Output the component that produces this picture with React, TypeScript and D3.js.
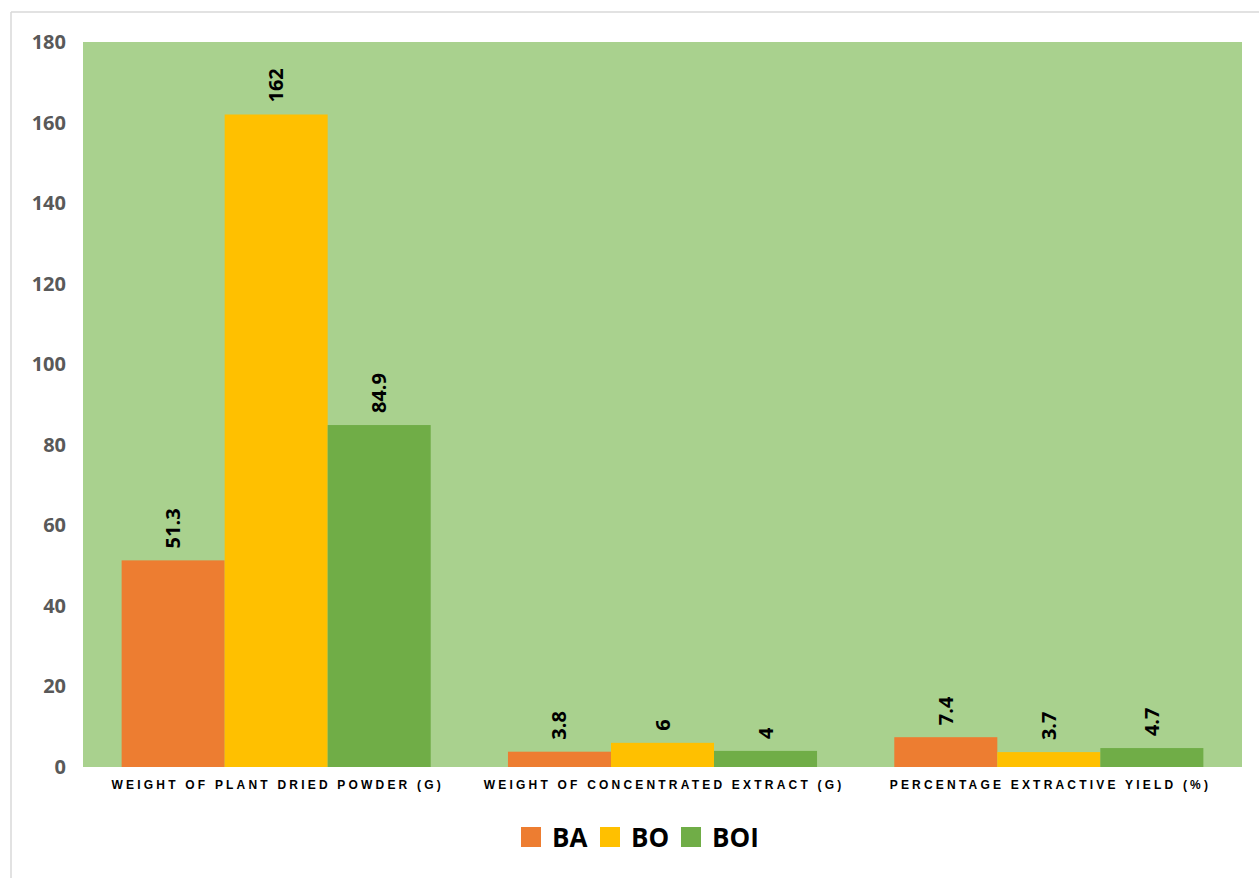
import React from "react";
import * as d3 from "d3";

const categories = [
  "WEIGHT OF PLANT DRIED POWDER (G)",
  "WEIGHT OF CONCENTRATED EXTRACT (G)",
  "PERCENTAGE EXTRACTIVE YIELD (%)",
];
const seriesNames = ["BA", "BO", "BOI"];
const baValues = [51.3, 3.8, 7.4];
const boValues = [162, 6, 3.7];
const boiValues = [84.9, 4, 4.7];
const yTicks = [0, 20, 40, 60, 80, 100, 120, 140, 160, 180];
const seriesColors = ["#ED7D31", "#FFC000", "#70AD47"];

const W = 1259;
const H = 878;
const plot = { left: 83, right: 1242, top: 42, bottom: 767 };

export default function App() {
  const series = [baValues, boValues, boiValues];
  const x0 = d3
    .scaleBand<string>()
    .domain(categories)
    .range([plot.left, plot.right])
    .paddingInner(0)
    .paddingOuter(0);
  // each group of bars fills the middle 80% of its category band
  const x1 = d3
    .scaleBand<string>()
    .domain(seriesNames)
    .range([x0.bandwidth() * 0.1, x0.bandwidth() * 0.9])
    .padding(0);
  const y = d3.scaleLinear().domain([0, 180]).range([plot.bottom, plot.top]);

  const legendItems = [
    { name: "BA", x: 521, textX: 552 },
    { name: "BO", x: 600, textX: 631 },
    { name: "BOI", x: 681, textX: 712 },
  ];

  return (
    <svg
      width={W}
      height={H}
      style={{ position: "absolute", left: 0, top: 0, background: "#fff" }}
    >
      {/* outer frame */}
      <line x1={11} x2={W} y1={12} y2={12} stroke="#D9D9D9" strokeWidth={1.5} />
      <line x1={11} x2={11} y1={12} y2={H} stroke="#D9D9D9" strokeWidth={1.5} />

      {/* plot area */}
      <rect
        x={plot.left}
        y={plot.top}
        width={plot.right - plot.left}
        height={plot.bottom - plot.top}
        fill="#A9D18E"
      />

      {/* y axis tick labels */}
      {yTicks.map((t) => (
        <text
          key={t}
          x={66}
          y={y(t)}
          dy="0.35em"
          textAnchor="end"
          fontFamily="'Open Sans', sans-serif"
          fontWeight={700}
          fontSize={20}
          fill="#595959"
        >
          {t}
        </text>
      ))}

      {/* bars and value labels */}
      {categories.map((c, ci) =>
        series.map((vals, si) => {
          const bx = (x0(c) as number) + (x1(seriesNames[si]) as number);
          const bw = x1.bandwidth();
          const v = vals[ci];
          const cx = bx + bw / 2;
          const ty = y(v) - 12;
          return (
            <g key={c + si}>
              <rect
                x={bx}
                y={y(v)}
                width={bw}
                height={plot.bottom - y(v)}
                fill={seriesColors[si]}
              />
              <text
                transform={`translate(${cx},${ty}) rotate(-90)`}
                dy="0.35em"
                textAnchor="start"
                fontFamily="'Open Sans', sans-serif"
                fontWeight={700}
                fontSize={20}
                fill="#000"
              >
                {v}
              </text>
            </g>
          );
        })
      )}

      {/* category labels */}
      {categories.map((c) => (
        <text
          key={c}
          x={(x0(c) as number) + x0.bandwidth() / 2 + 1.6}
          y={789}
          textAnchor="middle"
          fontFamily="'Liberation Sans', Arial, sans-serif"
          fontWeight={700}
          fontSize={12}
          letterSpacing={3.2}
          fill="#000"
        >
          {c}
        </text>
      ))}

      {/* legend */}
      {legendItems.map((l, i) => (
        <g key={l.name}>
          <rect x={l.x} y={827} width={20} height={20} fill={seriesColors[i]} />
          <text
            x={l.textX}
            y={847}
            fontFamily="'Open Sans', sans-serif"
            fontWeight={700}
            fontSize={26}
            fill="#000"
          >
            {l.name}
          </text>
        </g>
      ))}
    </svg>
  );
}
